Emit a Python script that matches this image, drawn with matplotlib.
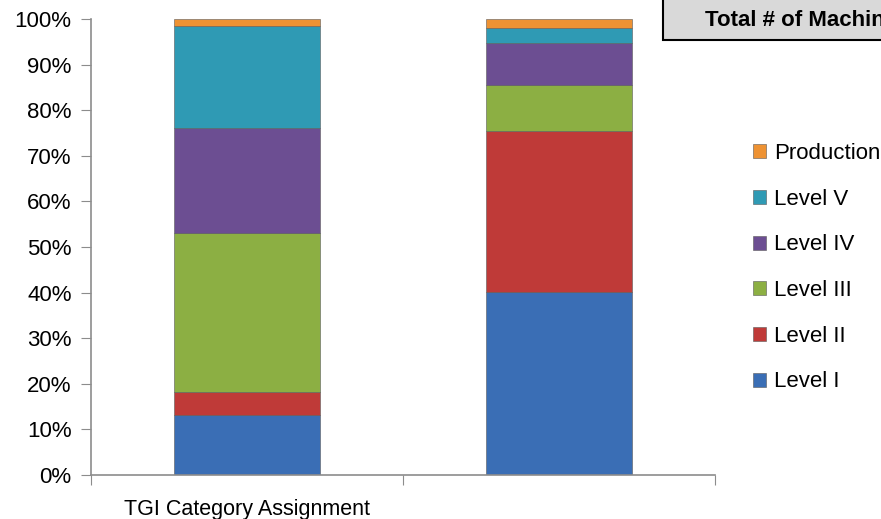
import matplotlib
matplotlib.use("Agg")
from matplotlib import pyplot as plt
from matplotlib.patches import Rectangle

categories = ["TGI Category Assignment", ""]
levels = ["Level I", "Level II", "Level III", "Level IV", "Level V", "Production"]
# percent share of each level, per category
level_1 = [13.2, 40.2]
level_2 = [5.1, 35.3]
level_3 = [34.8, 10.0]
level_4 = [23.1, 9.3]
level_5 = [22.3, 3.2]
production = [1.5, 2.0]
colors = ["#3A6EB5", "#BF3A38", "#8CAF43", "#6C4E92", "#2F9AB4", "#EE9233"]

plt.rcParams['font.family'] = ['Liberation Sans', 'DejaVu Sans']

fig = plt.figure(figsize=(8.81, 5.19), dpi=100)
ax = fig.add_axes([0.1033, 0.0848, 0.7083, 0.8786])

x = list(range(len(categories)))
bottom = [0, 0]
handles = []
for name, vals, c in zip(levels, [level_1, level_2, level_3, level_4, level_5, production], colors):
    b = ax.bar(x, vals, width=0.47, bottom=bottom, color=c, edgecolor="#5a5a5a",
               linewidth=0.4, label=name)
    handles.append(b)
    bottom = [bt + v for bt, v in zip(bottom, vals)]

ax.set_xlim(-0.5, 1.5)
ax.set_ylim(0, 100)
ax.set_yticks(range(0, 101, 10))
ax.set_yticklabels([f"{t}%" for t in range(0, 101, 10)], fontsize=16)
ax.set_xticks([-0.5, 0.5, 1.5])
ax.set_xticklabels([])
ax.set_xticks(x, minor=True)
ax.set_xticklabels(categories, minor=True, fontsize=15.5)
ax.tick_params(axis="x", which="minor", length=0, pad=17)
ax.tick_params(axis="x", which="major", length=7, color="#8c8c8c", direction="out")
ax.tick_params(axis="y", length=7, color="#8c8c8c", pad=7)
for s in ["top", "right"]:
    ax.spines[s].set_visible(False)
for s in ["left", "bottom"]:
    ax.spines[s].set_color("#8c8c8c")
    ax.spines[s].set_linewidth(1.2)

fig.legend(handles[::-1], levels[::-1], loc="center left", bbox_to_anchor=(0.8417, 0.484),
           frameon=False, fontsize=16, handlelength=0.6, handleheight=0.6,
           handletextpad=0.36, labelspacing=1.11, borderpad=0)

# header box, cut off at the right edge as in the original
fig.patches.append(Rectangle((0.7526, 0.923), 0.3, 0.1, transform=fig.transFigure,
                             facecolor="#D9D9D9", edgecolor="black", linewidth=1.5))
fig.text(0.80, 0.961, "Total # of Machines", fontsize=16, fontweight="bold",
         va="center", ha="left")

plt.savefig("out.png", dpi=100)
